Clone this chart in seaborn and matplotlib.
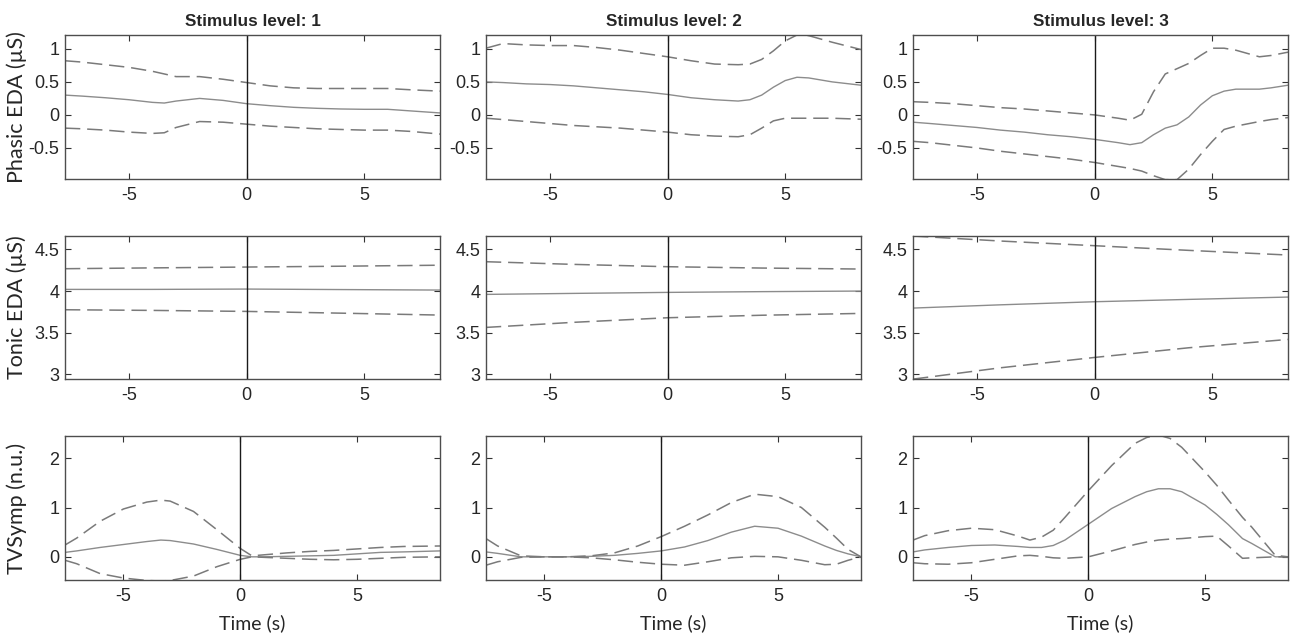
import numpy as np
import seaborn as sns
import matplotlib.pyplot as plt
from matplotlib.ticker import FormatStrFormatter

# ---- values ----
levels = [1, 2, 3]
row_labels = ['Phasic EDA (µS)', 'Tonic EDA (µS)', 'TVSymp (n.u.)']

# Phasic EDA, mean with upper / lower bounds
t_ph1 = [-7.72, -7, -6, -5, -4, -3.5, -3, -2, -1, 0, 1, 2, 3, 4, 5, 6, 7, 8.22]
ph1_mean = [0.30, 0.285, 0.26, 0.23, 0.19, 0.18, 0.21, 0.25, 0.22, 0.17, 0.14, 0.115, 0.10, 0.09, 0.085, 0.085, 0.06, 0.03]
ph1_hi = [0.82, 0.80, 0.76, 0.72, 0.66, 0.62, 0.58, 0.58, 0.54, 0.49, 0.44, 0.41, 0.40, 0.40, 0.40, 0.40, 0.38, 0.36]
ph1_lo = [-0.20, -0.21, -0.23, -0.26, -0.28, -0.27, -0.19, -0.10, -0.11, -0.14, -0.17, -0.19, -0.21, -0.22, -0.23, -0.23, -0.25, -0.29]

t_ph2 = [-7.72, -7, -6, -5, -4, -3, -2, -1, 0, 1, 2, 3, 3.5, 4, 4.5, 5, 5.5, 6, 7, 8.22]
ph2_mean = [0.50, 0.49, 0.47, 0.46, 0.44, 0.41, 0.38, 0.35, 0.31, 0.26, 0.23, 0.21, 0.23, 0.30, 0.42, 0.52, 0.57, 0.56, 0.50, 0.45]
ph2_hi = [1.01, 1.08, 1.06, 1.05, 1.05, 1.02, 0.98, 0.93, 0.88, 0.82, 0.77, 0.76, 0.77, 0.84, 0.97, 1.12, 1.21, 1.20, 1.10, 0.99]
ph2_lo = [-0.05, -0.07, -0.10, -0.13, -0.16, -0.18, -0.20, -0.23, -0.26, -0.30, -0.32, -0.33, -0.30, -0.20, -0.09, -0.05, -0.05, -0.05, -0.05, -0.065]

t_ph3 = [-7.72, -7, -6, -5, -4, -3, -2, -1, 0, 1, 1.5, 2, 2.5, 3, 3.5, 4, 4.5, 5, 5.5, 6, 7, 7.5, 8.22]
ph3_mean = [-0.11, -0.13, -0.16, -0.19, -0.23, -0.26, -0.30, -0.33, -0.37, -0.42, -0.45, -0.42, -0.30, -0.20, -0.15, -0.03, 0.15, 0.29, 0.36, 0.39, 0.39, 0.41, 0.45]
ph3_hi = [0.20, 0.19, 0.17, 0.14, 0.11, 0.09, 0.06, 0.03, 0.00, -0.05, -0.08, 0.01, 0.35, 0.62, 0.70, 0.78, 0.90, 1.01, 1.01, 0.98, 0.88, 0.90, 0.95]
ph3_lo = [-0.40, -0.42, -0.46, -0.50, -0.55, -0.59, -0.63, -0.67, -0.72, -0.78, -0.81, -0.85, -0.92, -0.98, -0.98, -0.82, -0.60, -0.40, -0.22, -0.17, -0.10, -0.07, -0.04]

# Tonic EDA
t_to = [-7.72, -4, 0, 4, 8.22]
to1_mean = [4.02, 4.02, 4.024, 4.018, 4.012]
to1_hi = [4.268, 4.278, 4.288, 4.298, 4.31]
to1_lo = [3.776, 3.768, 3.756, 3.735, 3.712]
to2_mean = [3.96, 3.972, 3.984, 3.993, 4.0]
to2_hi = [4.352, 4.32, 4.292, 4.276, 4.264]
to2_lo = [3.564, 3.625, 3.68, 3.71, 3.732]
to3_mean = [3.796, 3.835, 3.872, 3.90, 3.928]
to3_hi = [4.66, 4.60, 4.544, 4.488, 4.432]
to3_lo = [2.944, 3.08, 3.204, 3.32, 3.42]

# TVSymp
t_tv1 = [-7.5, -7, -6, -5, -4, -3.4, -3, -2, -1, 0, 0.5, 1, 2, 3, 4, 5, 6, 7, 8.55]
tv1_mean = [0.09, 0.12, 0.19, 0.25, 0.31, 0.34, 0.33, 0.26, 0.15, 0.03, 0.0, 0.0, 0.01, 0.02, 0.03, 0.06, 0.09, 0.10, 0.12]
tv1_hi = [0.24, 0.38, 0.72, 0.97, 1.11, 1.15, 1.13, 0.92, 0.55, 0.17, 0.02, 0.04, 0.08, 0.11, 0.13, 0.16, 0.19, 0.21, 0.22]
tv1_lo = [-0.07, -0.14, -0.34, -0.43, -0.48, -0.49, -0.48, -0.39, -0.20, -0.05, 0.0, -0.01, -0.03, -0.05, -0.06, -0.05, -0.03, -0.01, 0.0]

t_tv2 = [-7.5, -7, -6, -5, -4, -3, -2, -1, 0, 1, 2, 3, 4, 5, 6, 7, 7.5, 8, 8.55]
tv2_mean = [0.10, 0.07, 0.0, 0.0, 0.0, 0.01, 0.03, 0.07, 0.12, 0.20, 0.33, 0.50, 0.62, 0.58, 0.42, 0.22, 0.13, 0.06, 0.0]
tv2_hi = [0.37, 0.22, 0.02, 0.0, 0.0, 0.02, 0.08, 0.22, 0.41, 0.62, 0.85, 1.10, 1.27, 1.22, 1.00, 0.60, 0.38, 0.15, 0.0]
tv2_lo = [-0.17, -0.10, -0.01, 0.0, 0.0, -0.02, -0.06, -0.11, -0.15, -0.17, -0.10, -0.02, 0.01, 0.0, -0.07, -0.16, -0.15, -0.07, 0.0]

t_tv3 = [-7.5, -7, -6, -5, -4, -3, -2.5, -2, -1.5, -1, 0, 1, 2, 2.5, 3, 3.5, 4, 5, 5.5, 6, 6.6, 7, 8, 8.55]
tv3_mean = [0.10, 0.14, 0.19, 0.23, 0.24, 0.21, 0.19, 0.19, 0.23, 0.34, 0.66, 0.98, 1.22, 1.32, 1.38, 1.38, 1.32, 1.05, 0.86, 0.65, 0.37, 0.27, 0.0, 0.0]
tv3_hi = [0.34, 0.43, 0.53, 0.58, 0.55, 0.42, 0.34, 0.40, 0.54, 0.80, 1.34, 1.85, 2.30, 2.42, 2.47, 2.40, 2.22, 1.72, 1.45, 1.15, 0.80, 0.60, 0.03, 0.0]
tv3_lo = [-0.12, -0.14, -0.15, -0.12, -0.05, 0.02, 0.03, 0.01, -0.02, -0.03, 0.0, 0.12, 0.25, 0.30, 0.34, 0.36, 0.37, 0.41, 0.42, 0.22, -0.03, -0.02, 0.0, 0.0]

panels = [
    [(t_ph1, ph1_mean, ph1_hi, ph1_lo), (t_ph2, ph2_mean, ph2_hi, ph2_lo), (t_ph3, ph3_mean, ph3_hi, ph3_lo)],
    [(t_to, to1_mean, to1_hi, to1_lo), (t_to, to2_mean, to2_hi, to2_lo), (t_to, to3_mean, to3_hi, to3_lo)],
    [(t_tv1, tv1_mean, tv1_hi, tv1_lo), (t_tv2, tv2_mean, tv2_hi, tv2_lo), (t_tv3, tv3_mean, tv3_hi, tv3_lo)],
]
ylims = [(-0.97, 1.21), (2.945, 4.66), (-0.47, 2.45)]
yticks = [[-0.5, 0, 0.5, 1], [3, 3.5, 4, 4.5], [0, 1, 2]]
xlims = [(-7.72, 8.22), (-7.72, 8.22), (-7.5, 8.55)]

sns.set_style('white')
plt.rcParams['font.family'] = ['Liberation Sans', 'DejaVu Sans']
plt.rcParams['axes.unicode_minus'] = False
label_font = ['Lato', 'DejaVu Sans']

fig = plt.figure(figsize=(12.9, 6.35), dpi=100)
lefts = [0.0504, 0.3767, 0.7078]
bottoms = [0.7181, 0.4031, 0.0866]
heights = [0.2268, 0.2252, 0.2268]
width = 0.2907
line_col = '#8c8c8c'
dash_col = '#7a7a7a'

for r in range(3):
    for c in range(3):
        ax = fig.add_axes([lefts[c], bottoms[r], width, heights[r]])
        t, m, hi, lo = panels[r][c]
        sns.lineplot(x=t, y=m, ax=ax, color=line_col, linewidth=1.0, sort=False, estimator=None)
        sns.lineplot(x=t, y=hi, ax=ax, color=dash_col, linewidth=1.1, sort=False, estimator=None,
                     linestyle=(0, (10, 4.5)))
        sns.lineplot(x=t, y=lo, ax=ax, color=dash_col, linewidth=1.1, sort=False, estimator=None,
                     linestyle=(0, (10, 4.5)))
        ax.axvline(0, color='#1a1a1a', linewidth=1.0)
        ax.set_xlim(*xlims[r])
        ax.set_ylim(*ylims[r])
        ax.set_xticks([-5, 0, 5])
        ax.set_yticks(yticks[r])
        ax.yaxis.set_major_formatter(FormatStrFormatter('%g'))
        ax.tick_params(direction='in', length=4, width=0.8, color='#333333', labelsize=13,
                       top=True, right=True, bottom=True, left=True)
        ax.tick_params(axis='x', pad=6)
        ax.tick_params(axis='y', pad=4)
        for s in ax.spines.values():
            s.set_color('#4d4d4d')
            s.set_linewidth(1.0)
        if r == 0:
            ax.set_title(f'Stimulus level: {levels[c]}', fontsize=12.3, fontweight='bold', pad=6.5)
        if c == 0:
            ax.set_ylabel(row_labels[r], fontsize=15.5, family=label_font)
            ax.yaxis.set_label_coords(-0.102, 0.5)
        if r == 2:
            ax.set_xlabel('Time (s)', fontsize=14, family=label_font)
            ax.xaxis.set_label_coords(0.5, -0.235)

fig.savefig('out.png', dpi=100)
